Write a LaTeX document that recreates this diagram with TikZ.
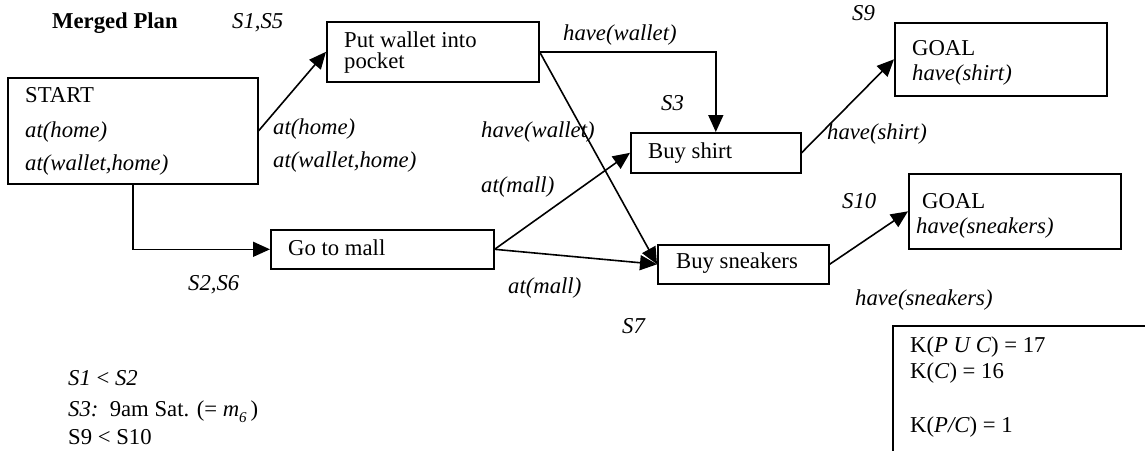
\documentclass[tikz,border=0pt]{standalone}
\usepackage{fontspec}
\setmainfont{Liberation Serif}
\usetikzlibrary{arrows.meta}
\newcommand\myfs{\fontsize{22.7pt}{27pt}\selectfont}
\begin{document}
\begin{tikzpicture}[x=1pt,y=-1pt,
  every node/.style={font=\myfs},
  txt/.style={anchor=base west,inner sep=0pt},
  boxx/.style={draw,line width=1.6pt,anchor=north west,inner sep=0pt,minimum width=#1},
  conn/.style={line width=1.6pt},
  arr/.style={conn,-{Triangle[length=17pt,width=15pt]}}]
\useasboundingbox (0,0) rectangle (1145,450);
% boxes
\node[boxx=250pt,minimum height=106pt] (start) at (7,77) {};
\node[boxx=212pt,minimum height=60pt] (putw) at (326,21) {};
\node[boxx=170pt,minimum height=40pt] (shirt) at (630,132) {};
\node[boxx=223pt,minimum height=39pt] (mall) at (270,229) {};
\node[boxx=171pt,minimum height=39pt] (sneak) at (657,244) {};
\node[boxx=212pt,minimum height=73pt] (goalA) at (894,22) {};
\node[boxx=212pt,minimum height=75pt] (goalB) at (908,173) {};
% texts in boxes
\node[txt] (tstart) at (25,102) {START};
\node[txt] (tsa) at (25,137) {\itshape at(home)};
\node[txt] (tsb) at (25,170) {\itshape at(wallet,home)};
\node[txt] (tpw1) at (344,47) {Put wallet into};
\node[txt] (tpw2) at (344,68) {pocket};
\node[txt] (tshirt) at (648,158) {Buy shirt};
\node[txt] (tmall) at (288,255) {Go to mall};
\node[txt] (tsneak) at (676,268) {Buy sneakers};
\node[txt] (tgA) at (912,55) {GOAL};
\node[txt] (tgAa) at (912,80) {\itshape have(shirt)};
\node[txt] (tgB) at (922,208) {GOAL};
\node[txt] (tgBa) at (916,233) {\itshape have(sneakers)};
% connectors
\draw[arr] (start.east) -- (putw.west);
\draw[arr] (putw.east) -| (shirt.north);
\draw[arr] (putw.east) -- (sneak.west);
\draw[arr] (mall.east) -- (shirt.west);
\draw[arr] (mall.east) -- (sneak.west);
\draw[arr] (start.south) |- (mall.west);
\draw[arr] (shirt.east) -- (goalA.west);
\draw[arr] (sneak.east) -- (goalB.west);
% labels
\node[txt] (title) at (52,28) {\bfseries Merged Plan};
\node[txt] (s15) at (232,28) {\itshape S1,S5};
\node[txt] (la1) at (273,134) {\itshape at(home)};
\node[txt] (la2) at (273,167) {\itshape at(wallet,home)};
\node[txt] (lhw1) at (563,40) {\itshape have(wallet)};
\node[txt] (ls3) at (661,110) {\itshape S3};
\node[txt] (lhw2) at (481,137) {\itshape have(wallet)};
\node[txt] (lam1) at (481,192) {\itshape at(mall)};
\node[txt] (ls26) at (188,290) {\itshape S2,S6};
\node[txt] (lam2) at (508,293) {\itshape at(mall)};
\node[txt] (ls7) at (622,333) {\itshape S7};
\node[txt] (lhs) at (855,305) {\itshape have(sneakers)};
\node[txt] (ls9) at (852,20) {\itshape S9};
\node[txt] (lhsh) at (827,139) {\itshape have(shirt)};
\node[txt] (ls10) at (842,208) {\itshape S10};
% notes
\node[txt] (n1) at (68,385) {\itshape S1 {\upshape <} S2};
\node[txt] (n2) at (68,416) {\itshape S3:\upshape\ \ 9am Sat. (= \itshape m\raisebox{-0.28em}{\fontsize{15pt}{15pt}\selectfont 6}\upshape\,)};
\node[txt] (n3) at (68,444) {S9 < S10};
% K box
\draw[line width=1.3pt] (893,452) -- (893,326) -- (1147,326);
\node[txt] (k1) at (910,352) {K(\textit{P U C}) = 17};
\node[txt] (k2) at (910,378) {K(\textit{C}) = 16};
\node[txt] (k3) at (910,432) {K(\textit{P/C}) = 1};
\end{tikzpicture}
\end{document}
